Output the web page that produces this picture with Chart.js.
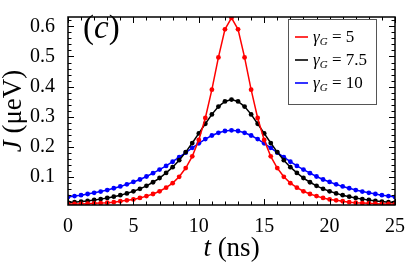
<!DOCTYPE html>
<html>
<head>
<meta charset="UTF-8">
<title>J(t)</title>
<script src="https://cdn.jsdelivr.net/npm/chart.js"></script>
<style>
    html, body { margin: 0; padding: 0; background: #fff; }
    #wrap { width: 407px; height: 267px; }
</style>
</head>
<body>
<div id="wrap"><canvas id="grafik" width="407" height="267"></canvas></div>
<script>
    // t (ns), step 0.5
    const vaqt = [0, 0.5, 1, 1.5, 2, 2.5, 3, 3.5, 4, 4.5, 5, 5.5, 6, 6.5, 7, 7.5, 8, 8.5, 9, 9.5,
        10, 10.5, 11, 11.5, 12, 12.5, 13, 13.5, 14, 14.5, 15, 15.5, 16, 16.5, 17, 17.5, 18, 18.5, 19, 19.5,
        20, 20.5, 21, 21.5, 22, 22.5, 23, 23.5, 24, 24.5, 25];

    // J (μeV) for each gamma_G
    const gamma5 = [0.010, 0.011, 0.011, 0.012, 0.013, 0.014, 0.015, 0.017, 0.020, 0.023, 0.026, 0.031, 0.037,
        0.044, 0.053, 0.065, 0.080, 0.101, 0.130, 0.169, 0.223, 0.296, 0.390, 0.497, 0.590, 0.628,
        0.590, 0.497, 0.390, 0.296, 0.223, 0.169, 0.130, 0.101, 0.080, 0.065, 0.053, 0.044, 0.037,
        0.031, 0.026, 0.023, 0.020, 0.017, 0.015, 0.014, 0.013, 0.012, 0.011, 0.011, 0.010];
    const gamma75 = [0.015, 0.017, 0.019, 0.021, 0.024, 0.027, 0.031, 0.035, 0.040, 0.046, 0.053, 0.061, 0.071,
        0.083, 0.097, 0.114, 0.133, 0.156, 0.183, 0.213, 0.245, 0.277, 0.308, 0.334, 0.351, 0.357,
        0.351, 0.334, 0.308, 0.277, 0.245, 0.213, 0.183, 0.156, 0.133, 0.114, 0.097, 0.083, 0.071,
        0.061, 0.053, 0.046, 0.040, 0.035, 0.031, 0.027, 0.024, 0.021, 0.019, 0.017, 0.015];
    const gamma10 = [0.034, 0.037, 0.040, 0.044, 0.048, 0.052, 0.057, 0.063, 0.069, 0.076, 0.084, 0.092, 0.102,
        0.113, 0.125, 0.137, 0.151, 0.166, 0.181, 0.197, 0.212, 0.226, 0.238, 0.247, 0.253, 0.255,
        0.253, 0.247, 0.238, 0.226, 0.212, 0.197, 0.181, 0.166, 0.151, 0.137, 0.125, 0.113, 0.102,
        0.092, 0.084, 0.076, 0.069, 0.063, 0.057, 0.052, 0.048, 0.044, 0.040, 0.037, 0.034];

    const gammaNomlar = ['5', '7.5', '10'];
    const ranglar = ['#ff0000', '#000000', '#0000ff'];
    const xBelgilar = [0, 5, 10, 15, 20, 25];
    const yBelgilar = [0.1, 0.2, 0.3, 0.4, 0.5, 0.6];

    const serif = "'Liberation Serif', 'DejaVu Serif', serif";

    function juftlar(qiymatlar) {
        return vaqt.map((t, i) => ({ x: t, y: qiymatlar[i] }));
    }

    function matnQismlar(ctx, qismlar, x, y) {
        // qismlar: [text, font, dy]
        qismlar.forEach(q => {
            ctx.font = q[1];
            ctx.fillText(q[0], x, y + (q[2] || 0));
            x += ctx.measureText(q[0]).width;
        });
    }

    function kenglik(ctx, qismlar) {
        let w = 0;
        qismlar.forEach(q => { ctx.font = q[1]; w += ctx.measureText(q[0]).width; });
        return w;
    }

    const bezak = {
        id: 'bezak',
        afterDatasetsDraw(chart) {
            const ctx = chart.ctx;
            const a = chart.chartArea;
            const sx = chart.scales.x, sy = chart.scales.y;
            ctx.save();
            ctx.strokeStyle = '#000';
            ctx.lineWidth = 1.5;
            ctx.strokeRect(a.left, a.top, a.right - a.left, a.bottom - a.top);

            // inward ticks on all sides
            ctx.lineWidth = 1;
            ctx.beginPath();
            for (let v = 0; v <= 25; v += 1) {
                const px = Math.round(sx.getPixelForValue(v)) + 0.5;
                const len = v % 5 === 0 ? 6 : 3.5;
                ctx.moveTo(px, a.bottom); ctx.lineTo(px, a.bottom - len);
                ctx.moveTo(px, a.top); ctx.lineTo(px, a.top + len);
            }
            for (let k = 1; k <= 31; k++) {
                const v = k * 0.02;
                if (v < sy.min || v > sy.max) continue;
                const py = Math.round(sy.getPixelForValue(v)) + 0.5;
                const len = k % 5 === 0 ? 6 : 3.5;
                ctx.moveTo(a.left, py); ctx.lineTo(a.left + len, py);
                ctx.moveTo(a.right, py); ctx.lineTo(a.right - len, py);
            }
            ctx.stroke();

            ctx.fillStyle = '#000';
            ctx.textAlign = 'left';
            ctx.textBaseline = 'alphabetic';

            // (c)
            matnQismlar(ctx, [['(', '33px ' + serif], ['c', 'italic 33px ' + serif], [')', '33px ' + serif]], a.left + 15, 38);

            // legend
            const lx = 288, ly = 19, lw = 88, lh = 85;
            ctx.fillStyle = '#fff';
            ctx.fillRect(lx, ly, lw, lh);
            ctx.strokeStyle = '#555';
            ctx.lineWidth = 1;
            ctx.strokeRect(lx + 0.5, ly + 0.5, lw, lh);
            chart.data.datasets.forEach((ds, i) => {
                const ry = ly + 18 + i * 23;
                ctx.strokeStyle = ds.borderColor;
                ctx.lineWidth = 1.6;
                ctx.beginPath();
                ctx.moveTo(lx + 7, ry); ctx.lineTo(lx + 20, ry);
                ctx.stroke();
                ctx.fillStyle = '#000';
                matnQismlar(ctx, [
                    ['γ', 'italic 17px ' + serif],
                    ['G', 'italic 11px ' + serif, 3],
                    [' = ' + gammaNomlar[i], '17px ' + serif]
                ], lx + 25, ry + 5);
            });

            // axis titles
            const xq = [['t', 'italic 27px ' + serif], [' (ns)', '27px ' + serif]];
            matnQismlar(ctx, xq, (a.left + a.right) / 2 - kenglik(ctx, xq) / 2, 256);

            const yq = [['J', 'italic 27px ' + serif], [' (μeV)', '27px ' + serif]];
            ctx.translate(21, (a.top + a.bottom) / 2);
            ctx.rotate(-Math.PI / 2);
            matnQismlar(ctx, yq, -kenglik(ctx, yq) / 2, 0);
            ctx.restore();
        }
    };

    new Chart(document.getElementById('grafik'), {
        type: 'line',
        data: {
            datasets: [gamma5, gamma75, gamma10].map((q, i) => ({
                label: 'γG = ' + gammaNomlar[i],
                data: juftlar(q),
                borderColor: ranglar[i],
                backgroundColor: ranglar[i],
                borderWidth: 1.5,
                pointRadius: 2.4,
                pointBorderWidth: 0,
                tension: 0
            }))
        },
        options: {
            responsive: false,
            animation: false,
            layout: { padding: { top: 1, right: 10 } },
            plugins: { legend: { display: false }, tooltip: { enabled: false } },
            scales: {
                x: {
                    type: 'linear',
                    min: 0,
                    max: 25,
                    grid: { display: false },
                    border: { display: false },
                    afterBuildTicks: s => { s.ticks = xBelgilar.map(v => ({ value: v })); },
                    afterFit: s => { s.height = 62; },
                    ticks: { color: '#000', padding: 2, font: { family: serif, size: 20 } }
                },
                y: {
                    min: 0.0075,
                    max: 0.631,
                    grid: { display: false },
                    border: { display: false },
                    afterBuildTicks: s => { s.ticks = yBelgilar.map(v => ({ value: v })); },
                    afterFit: s => { s.width = 68; },
                    ticks: { color: '#000', padding: 5, font: { family: serif, size: 20 } }
                }
            }
        },
        plugins: [bezak]
    });
</script>
</body>
</html>
